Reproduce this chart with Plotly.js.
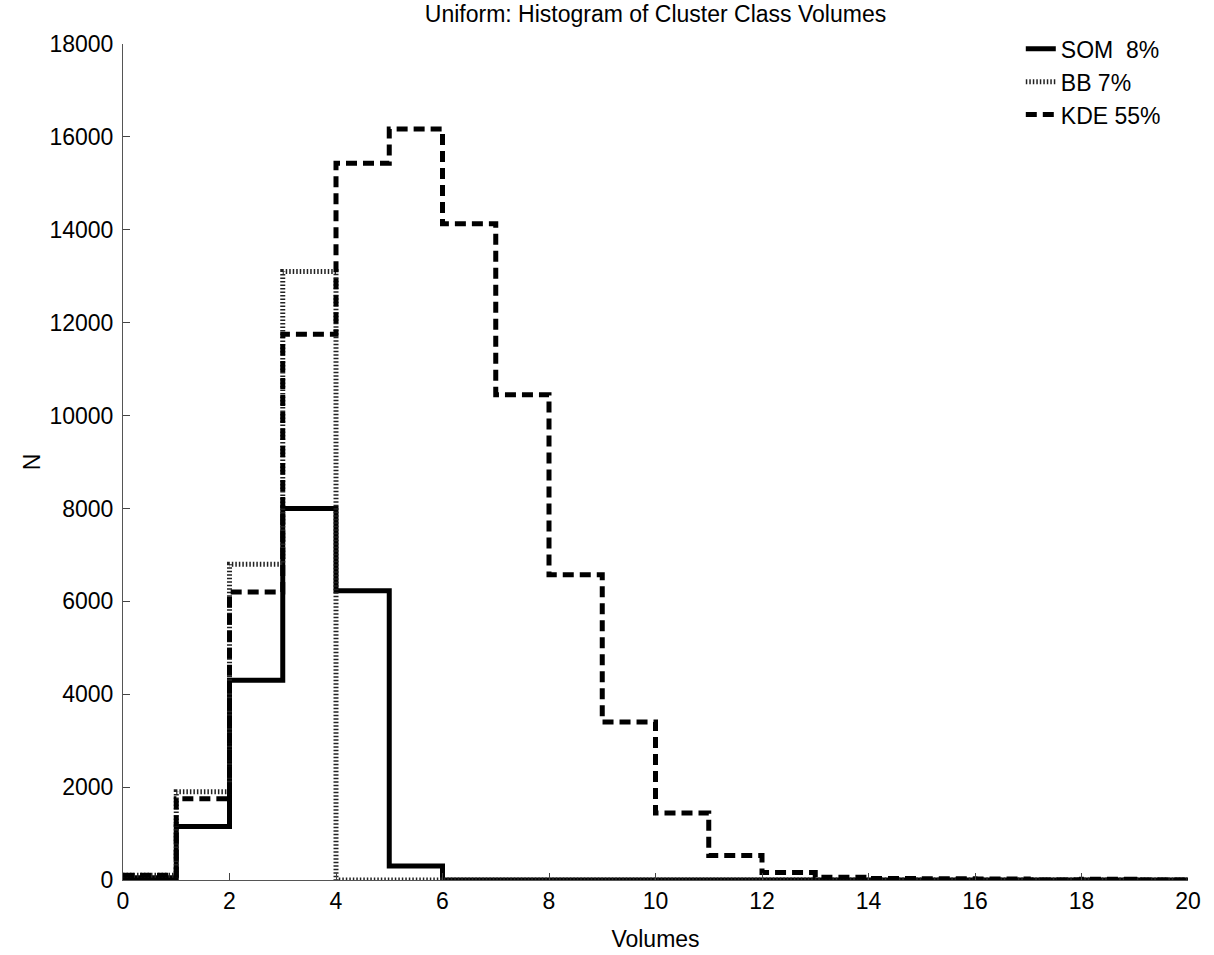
<!DOCTYPE html>
<html>
<head>
<meta charset="utf-8">
<script src="https://cdn.plot.ly/plotly-3.0.1.min.js"></script>
<style>html,body{margin:0;padding:0;background:#fff;}#chart{width:1214px;height:955px;}</style>
</head>
<body>
<div id="chart"></div>
<script>
// bin edges (Volumes) 0..20, one value per bin [i, i+1)
const binEdges = [0,1,2,3,4,5,6,7,8,9,10,11,12,13,14,15,16,17,18,19,20];
const somCounts = [50,1150,4300,8000,6230,300,0,0,0,0,0,0,0,0,0,0,0,0,0,0];
const bbCounts  = [100,1900,6800,13100,0,0,0,0,0,0,0,0,0,0,0,0,0,0,0,0];
const kdeCounts = [100,1750,6200,11750,15430,16170,14130,10450,6570,3400,1440,530,160,60,30,25,20,0,15,0];
const seriesNames = ['SOM  8%', 'BB 7%', 'KDE 55%'];
const xTicks = [0,2,4,6,8,10,12,14,16,18,20];
const yTicks = [0,2000,4000,6000,8000,10000,12000,14000,16000,18000];

function stepY(c){ return c.concat([c[c.length-1]]); }

const traces = [
  {x: binEdges, y: stepY(somCounts), name: seriesNames[0], mode: 'lines',
   line: {shape: 'hv', color: '#000', width: 5}},
  {x: binEdges, y: stepY(bbCounts), name: seriesNames[1], mode: 'lines',
   line: {shape: 'hv', color: '#222', width: 5, dash: '1.5px,2px'}},
  {x: binEdges, y: stepY(kdeCounts), name: seriesNames[2], mode: 'lines',
   line: {shape: 'hv', color: '#000', width: 5, dash: '11px,6px'}}
];

const FAM = 'Liberation Sans, Arial, sans-serif';
const axisFont = {family: FAM, size: 23, color: '#000'};
const layout = {
  width: 1214, height: 955,
  margin: {l: 123, r: 26, t: 44, b: 75},
  paper_bgcolor: '#fff', plot_bgcolor: '#fff',
  showlegend: true,
  title: {text: 'Uniform: Histogram of Cluster Class Volumes',
          font: {family: FAM, size: 23, color: '#000'},
          xref: 'paper', x: 0.5, xanchor: 'center', y: 0.985, yanchor: 'middle'},
  xaxis: {range: [0, 20], tickvals: xTicks, ticktext: xTicks.map(String),
          ticks: 'inside', ticklen: 7, tickcolor: '#444', tickwidth: 1,
          showline: true, linecolor: '#555', linewidth: 1, showgrid: false, zeroline: false,
          tickfont: axisFont, mirror: false,
          title: {text: 'Volumes', font: {family: FAM, size: 23, color: '#000'}, standoff: 18}},
  yaxis: {range: [0, 18000], tickvals: yTicks, ticktext: yTicks.map(String),
          ticks: 'inside', ticklen: 7, tickcolor: '#444', tickwidth: 1,
          showline: true, linecolor: '#555', linewidth: 1, showgrid: false, zeroline: false,
          tickfont: axisFont, mirror: false, ticklabelstandoff: 4,
          title: {text: 'N', font: {family: FAM, size: 23, color: '#000'}, standoff: 2}},
  legend: {x: 0.843, y: 1.02, xanchor: 'left', yanchor: 'top', bgcolor: 'rgba(0,0,0,0)',
           font: {family: FAM, size: 23, color: '#000'},
           tracegroupgap: 0, itemwidth: 30}
};

Plotly.newPlot('chart', traces, layout, {displayModeBar: false, staticPlot: true});
</script>
</body>
</html>
